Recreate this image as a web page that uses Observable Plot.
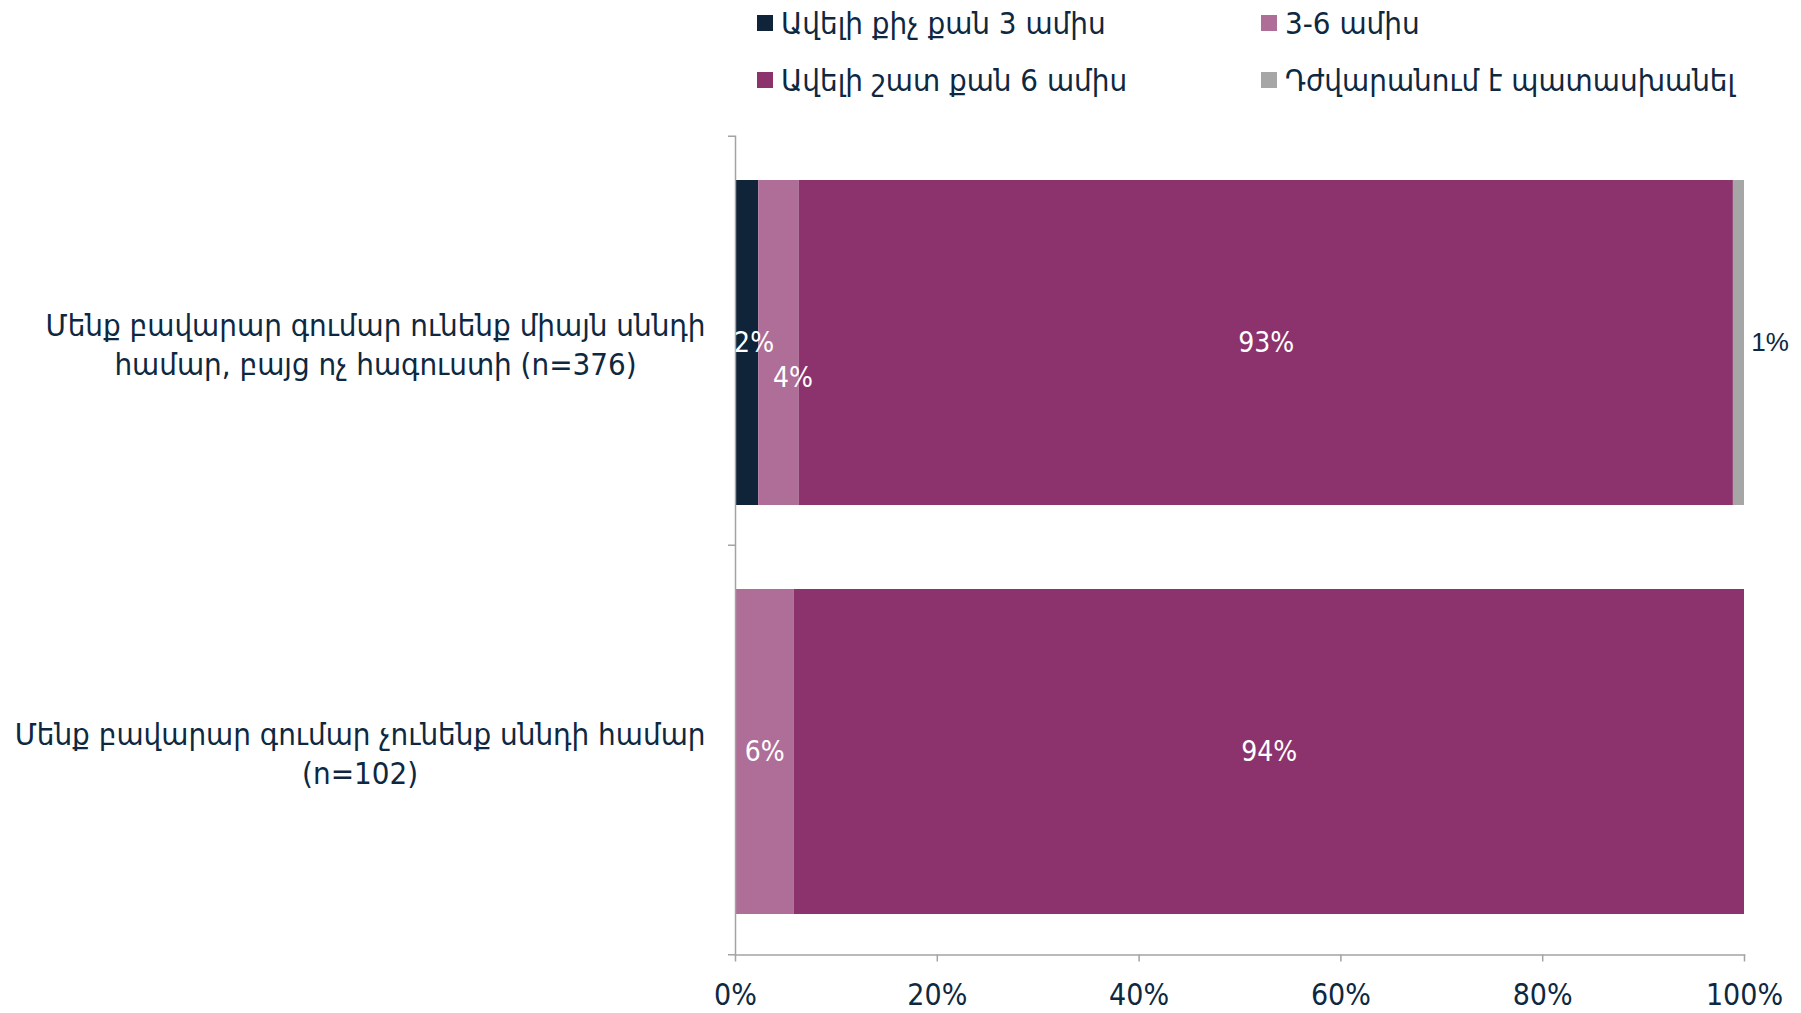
<!DOCTYPE html>
<html>
<head>
<meta charset="utf-8">
<script src="https://cdn.jsdelivr.net/npm/d3@7"></script>
<script src="https://cdn.jsdelivr.net/npm/@observablehq/plot@0.6"></script>
<style>
  html, body { margin: 0; padding: 0; background: #fff; }
  #wrap { position: relative; width: 1801px; height: 1013px; overflow: hidden; }
  #legend { position: relative; width: 1801px; height: 110px; font-family: "DejaVu Sans Condensed", "DejaVu Sans", sans-serif; font-size: 31px; color: #0e2841; }
  .li { position: absolute; display: flex; align-items: center; white-space: nowrap; }
  .sw { width: 16px; height: 16px; margin-right: 8px; }
</style>
</head>
<body>
<div id="wrap">
  <div id="legend"></div>
  <div id="chart"></div>
</div>
<script>
// ---- data ----
const categories = [
  "Մենք բավարար գումար ունենք միայն սննդի\nհամար, բայց ոչ հագուստի (n=376)",
  "Մենք բավարար գումար չունենք սննդի համար\n(n=102)"
];
const series = [
  "Ավելի քիչ քան 3 ամիս",
  "3-6 ամիս",
  "Ավելի շատ քան 6 ամիս",
  "Դժվարանում է պատասխանել"
];
const values1 = [2.3, 4.0, 92.6, 1.1];
const values2 = [0, 5.8, 94.2, 0];
const labels1 = ["2%", "4%", "93%", "1%"];
const labels2 = [null, "6%", "94%", null];
const colors = ["#0f2339", "#ae6e97", "#8c336d", "#a6a6a6"];
const xTicks = [0, 20, 40, 60, 80, 100];

const rows = [];
[[values1, labels1], [values2, labels2]].forEach(([vals, labs], ci) => {
  series.forEach((s, si) => rows.push({cat: categories[ci], series: s, si, value: vals[si], label: labs[si]}));
});

// ---- legend (HTML, above the SVG) ----
const legendPos = [[757, 23], [1261, 23], [757, 80], [1261, 80]];
const legend = document.getElementById("legend");
series.forEach((s, i) => {
  const d = document.createElement("div");
  d.className = "li";
  d.style.left = legendPos[i][0] + "px";
  d.style.top = (legendPos[i][1] - 20) + "px";
  d.style.height = "40px";
  d.innerHTML = `<span class="sw" style="background:${colors[i]}"></span><span>${s}</span>`;
  legend.appendChild(d);
});

// ---- layout ----
const W = 1801, H = 903;
const mTop = 25.5, mBottom = 58.5, mLeft = 735, mRight = 57;
const step = (H - mTop - mBottom) / categories.length;
const axisColor = "#a3a3a3";
const catSize = 31;
const ctx = document.createElement("canvas").getContext("2d");
ctx.font = catSize + "px 'DejaVu Sans Condensed'";
const maxLineW = c => Math.max(...c.split("\n").map(l => ctx.measureText(l).width));

const textColor = "#0e2841";
const pctFont = "'Liberation Sans Narrow', 'DejaVu Sans Condensed', sans-serif";

const stackOpts = (filterFn, extra) => Plot.stackX({
  x: "value", y: "cat", order: null,
  text: d => (filterFn(d) ? d.label : null),
  ...extra
});

const chart = Plot.plot({
  width: W, height: H,
  marginTop: mTop, marginBottom: mBottom, marginLeft: mLeft, marginRight: mRight,
  x: {domain: [0, 100]},
  y: {domain: categories, paddingInner: 0.206, paddingOuter: 0.103},
  color: {domain: series, range: colors},
  style: {fontFamily: "'DejaVu Sans Condensed', sans-serif", color: textColor, background: "white"},
  marks: [
    Plot.barX(rows, Plot.stackX({x: "value", y: "cat", fill: "series", order: null, dy: 2})),
    // axis lines
    Plot.ruleX([0], {stroke: axisColor, strokeWidth: 1.5}),
    Plot.frame({anchor: "bottom", stroke: axisColor, strokeWidth: 1.5}),
    // category separator ticks on y axis
    Plot.ruleY(categories, {y: d => d, x1: 0, x2: 0, insetLeft: -7, dy: -step / 2, stroke: axisColor, strokeWidth: 1.5}),
    Plot.ruleY([categories[categories.length - 1]], {y: d => d, x1: 0, x2: 0, insetLeft: -7, dy: step / 2, stroke: axisColor, strokeWidth: 1.5}),
    // x axis
    Plot.axisX(xTicks, {tickSize: 7, tickPadding: 22, stroke: axisColor, strokeWidth: 1.5, tickFormat: d => d + "%",
      fontSize: 30, fontFamily: pctFont, fill: textColor, label: null}),
    // y category labels
    ...categories.map(c => Plot.axisY([c], {tickSize: 0, tickPadding: 0, textAnchor: "middle", lineWidth: Infinity,
      lineHeight: 39 / catSize, fontSize: catSize, fill: textColor, label: null, dx: -30 - maxLineW(c) / 2, dy: 2})),
    // value labels
    Plot.text(rows, stackOpts(d => d.si === 0, {fill: "white", fontSize: 28, fontFamily: pctFont, dx: 7, dy: 2})),
    Plot.text(rows, stackOpts(d => d.si === 1 && d.cat === categories[0], {fill: "white", fontSize: 28, fontFamily: pctFont, dx: 14, dy: 37})),
    Plot.text(rows, stackOpts(d => (d.si === 1 && d.cat !== categories[0]) || d.si === 2, {fill: "white", fontSize: 28, fontFamily: pctFont, dy: 2})),
    Plot.text(rows, stackOpts(d => d.si === 3, {fill: textColor, fontSize: 26, fontFamily: "'Liberation Sans', Arial, sans-serif", dx: 31, dy: 2}))
  ]
});
document.getElementById("chart").appendChild(chart);
</script>
</body>
</html>
